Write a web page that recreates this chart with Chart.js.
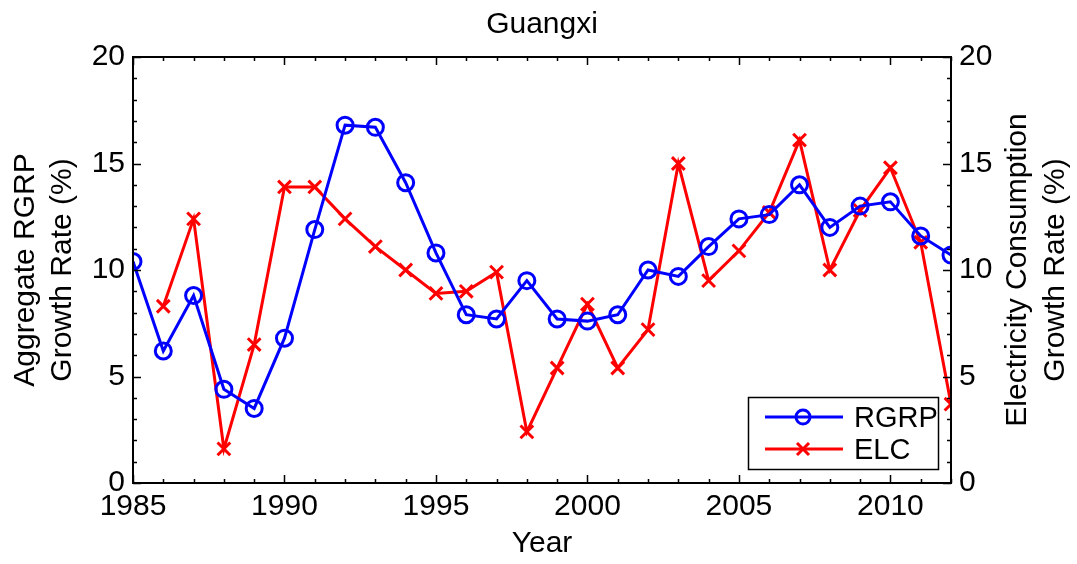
<!DOCTYPE html>
<html>
<head>
<meta charset="utf-8">
<script src="https://cdn.jsdelivr.net/npm/chart.js@4/dist/chart.umd.min.js"></script>
<style>
  html, body { margin: 0; padding: 0; background: #fff; }
  #wrap { width: 1077px; height: 564px; }
</style>
</head>
<body>
<div id="wrap"><canvas id="myChart"></canvas></div>
<script>
const years = [1985, 1986, 1987, 1988, 1989, 1990, 1991, 1992, 1993, 1994, 1995, 1996, 1997, 1998,
  1999, 2000, 2001, 2002, 2003, 2004, 2005, 2006, 2007, 2008, 2009, 2010, 2011, 2012];
const rgrp = [10.4, 6.2, 8.8, 4.4, 3.5, 6.8, 11.9, 16.8, 16.7, 14.1, 10.8, 7.9, 7.7, 9.5,
  7.7, 7.6, 7.9, 10.0, 9.7, 11.1, 12.4, 12.6, 14.0, 12.0, 13.0, 13.2, 11.6, 10.7];
const elc = [null, 8.3, 12.4, 1.6, 6.5, 13.9, 13.9, 12.4, 11.1, 10.0, 8.9, 9.0, 9.9, 2.4,
  5.4, 8.4, 5.4, 7.2, 15.0, 9.5, 10.9, 12.7, 16.1, 10.0, 12.8, 14.8, 11.3, 3.7];
const xTicks = [1985, 1990, 1995, 2000, 2005, 2010];
const yTicks = [0, 5, 10, 15, 20];

const FONT = '"Liberation Sans", Arial, Helvetica, sans-serif';

// ticks pointing inward on all four sides, box, titles, legend
const decorations = {
  id: 'decorations',
  afterDraw(chart) {
    const ctx = chart.ctx;
    const a = chart.chartArea;
    const x = chart.scales.x, y = chart.scales.y;
    ctx.save();
    ctx.strokeStyle = '#000';
    ctx.lineWidth = 1.5;
    ctx.beginPath();
    for (let yr = years[0]; yr <= years[years.length - 1]; yr++) {
      const px = Math.round(x.getPixelForValue(yr)) + 0.5;
      const len = yr % 5 === 0 ? 8 : 4;
      ctx.moveTo(px, a.bottom); ctx.lineTo(px, a.bottom - len);
      ctx.moveTo(px, a.top); ctx.lineTo(px, a.top + len);
    }
    for (let v = 0; v <= 20; v++) {
      const py = Math.round(y.getPixelForValue(v)) + 0.5;
      const len = v % 5 === 0 ? 8 : 4;
      ctx.moveTo(a.left, py); ctx.lineTo(a.left + len, py);
      ctx.moveTo(a.right, py); ctx.lineTo(a.right - len, py);
    }
    ctx.stroke();
    ctx.lineWidth = 2;
    ctx.strokeRect(a.left, a.top, a.right - a.left, a.bottom - a.top);

    // titles
    ctx.fillStyle = '#000';
    ctx.font = '30px ' + FONT;
    ctx.textAlign = 'center';
    ctx.textBaseline = 'alphabetic';
    const cx = (a.left + a.right) / 2;
    const cy = (a.top + a.bottom) / 2;
    ctx.fillText('Guangxi', cx, 33);
    ctx.fillText('Year', cx, 552);

    ctx.save();
    ctx.translate(0, cy);
    ctx.rotate(-Math.PI / 2);
    ctx.fillText('Aggregate RGRP', 0, 34);
    ctx.fillText('Growth Rate (%)', 0, 71);
    ctx.restore();

    ctx.save();
    ctx.translate(0, cy);
    ctx.rotate(-Math.PI / 2);
    ctx.fillText('Electricity Consumption', 0, 1026);
    ctx.fillText('Growth Rate (%)', 0, 1064);
    ctx.restore();

    // legend
    const bx = 748, by = 397, bw = 190, bh = 72;
    ctx.fillStyle = '#fff';
    ctx.fillRect(bx, by, bw, bh);
    ctx.lineWidth = 1.5;
    ctx.strokeStyle = '#000';
    ctx.strokeRect(bx + 0.5, by + 0.5, bw, bh);
    const rows = [
      { ds: chart.data.datasets[0], yy: 417 },
      { ds: chart.data.datasets[1], yy: 449 }
    ];
    rows.forEach(r => {
      ctx.strokeStyle = r.ds.borderColor;
      ctx.lineWidth = 3;
      ctx.beginPath();
      ctx.moveTo(765, r.yy); ctx.lineTo(843, r.yy);
      ctx.stroke();
      ctx.beginPath();
      if (r.ds.pointStyle === 'circle') {
        ctx.arc(803, r.yy, 7, 0, Math.PI * 2);
      } else {
        ctx.moveTo(797, r.yy - 6); ctx.lineTo(809, r.yy + 6);
        ctx.moveTo(809, r.yy - 6); ctx.lineTo(797, r.yy + 6);
      }
      ctx.stroke();
      ctx.fillStyle = '#000';
      ctx.font = '29px ' + FONT;
      ctx.textAlign = 'left';
      ctx.fillText(r.ds.label, 854, r.yy + 10);
    });
    ctx.restore();
  }
};

const tickFont = { family: FONT, size: 30 };

const ctx = document.getElementById('myChart').getContext('2d');
const chart = new Chart(ctx, {
  type: 'line',
  data: {
    datasets: [
      {
        label: 'RGRP',
        data: years.map((yr, i) => ({ x: yr, y: rgrp[i] })),
        borderColor: '#0000ff',
        backgroundColor: 'rgba(0,0,0,0)',
        borderWidth: 3,
        pointStyle: 'circle',
        pointRadius: 8,
        pointBorderWidth: 3,
        pointBackgroundColor: 'rgba(0,0,0,0)',
        pointBorderColor: '#0000ff',
        tension: 0,
        yAxisID: 'y'
      },
      {
        label: 'ELC',
        data: years.map((yr, i) => ({ x: yr, y: elc[i] })),
        borderColor: '#ff0000',
        backgroundColor: 'rgba(0,0,0,0)',
        borderWidth: 3,
        pointStyle: 'crossRot',
        pointRadius: 9,
        pointBorderWidth: 3,
        pointBorderColor: '#ff0000',
        tension: 0,
        yAxisID: 'y2'
      }
    ]
  },
  options: {
    responsive: true,
    maintainAspectRatio: false,
    animation: false,
    layout: { padding: { top: 57, left: 0, right: 0, bottom: 0 } },
    plugins: {
      legend: { display: false },
      title: { display: false },
      tooltip: { enabled: false }
    },
    scales: {
      x: {
        type: 'linear',
        min: 1985,
        max: 2012,
        afterBuildTicks: s => { s.ticks = xTicks.map(v => ({ value: v })); },
        afterFit: s => { s.height = 81; },
        grid: { drawOnChartArea: false, drawTicks: false },
        border: { display: true, color: '#000', width: 2 },
        ticks: { font: tickFont, color: '#000', padding: 6, maxRotation: 0, autoSkip: false,
          callback: v => String(v) }
      },
      y: {
        position: 'left',
        min: 0,
        max: 20,
        afterBuildTicks: s => { s.ticks = yTicks.map(v => ({ value: v })); },
        afterFit: s => { s.width = 133; },
        grid: { drawOnChartArea: false, drawTicks: false },
        border: { display: true, color: '#000', width: 2 },
        ticks: { font: tickFont, color: '#000', padding: 8 }
      },
      y2: {
        position: 'right',
        min: 0,
        max: 20,
        afterBuildTicks: s => { s.ticks = yTicks.map(v => ({ value: v })); },
        afterFit: s => { s.width = 126; },
        grid: { drawOnChartArea: false, drawTicks: false },
        border: { display: true, color: '#000', width: 2 },
        ticks: { font: tickFont, color: '#000', padding: 8 }
      }
    }
  },
  plugins: [decorations]
});
</script>
</body>
</html>
